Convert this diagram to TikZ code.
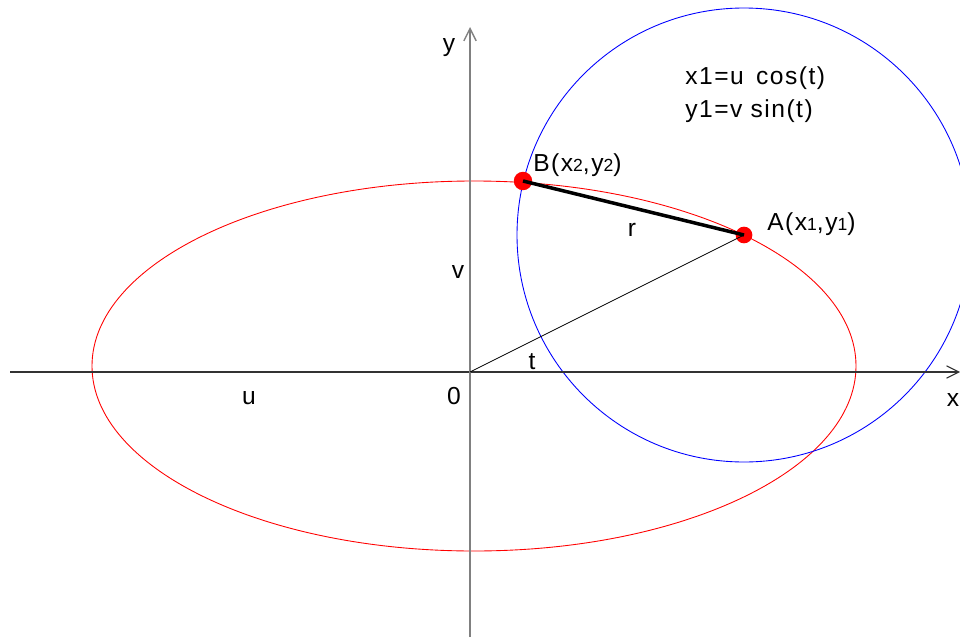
\documentclass[tikz,border=0pt]{standalone}
\usepackage{fontspec}
\setmainfont{Liberation Sans}[LetterSpace=6]
\usepackage{tikz}
\usetikzlibrary{arrows.meta,positioning}
\newcommand{\ix}[1]{{\fontsize{10}{10}\selectfont #1}}

\begin{document}
\begin{tikzpicture}[x=0.02cm, y=0.02cm, lbl/.style={inner sep=0pt, font=\fontsize{14}{16}\selectfont}, dot/.style={circle, fill=red, inner sep=0pt, minimum size=10.5pt}, axis/.style={-{Straight Barb[length=7pt,width=7pt]}, line width=0.6pt}, >=Stealth]
\useasboundingbox (0,0) rectangle (960,637);
\coordinate (O) at (470,265);
\coordinate (xl) at (10,265);
\coordinate (xr) at (960,265);
\coordinate (yb) at (470,0);
\coordinate (yt) at (470,610);
\draw[red, line width=0.5pt] (474,271) ellipse [x radius=382, y radius=185];
\draw[blue, line width=0.5pt] (744,402) circle [radius=227];
\draw[axis, black!80] (xl) -- (xr);
\draw[axis, gray, line width=0.8pt] (yb) -- (yt);
\node[dot] (B) at (523,456) {};
\node[dot, minimum size=9.5pt] (A) at (744,402) {};
\draw[line width=0.5pt] (O) -- (A.center);
\draw[line width=2pt] (B.center) -- (A.center);
\node[lbl] (ylab) at (449,589) {y};
\node[lbl] (xlab) at (953,237) {x};
\node[lbl] (olab) at (454,241) {0};
\node[lbl] (ulab) at (249,239) {u};
\node[lbl] (vlab) at (458,365) {v};
\node[lbl] (tlab) at (532,275) {t};
\node[lbl] (rlab) at (632,407) {r};
\node[lbl, anchor=west] (blab) at (533,472) {B(x\ix{2},y\ix{2})};
\node[lbl, anchor=west] (alab) at (767,413) {A(x\ix{1},y\ix{1})};
\node[lbl, anchor=west] (fx) at (685,559) {x1=u \,cos(t)};
\node[lbl, anchor=west] (fy) at (685,526) {y1=v sin(t)};
\end{tikzpicture}
\end{document}
